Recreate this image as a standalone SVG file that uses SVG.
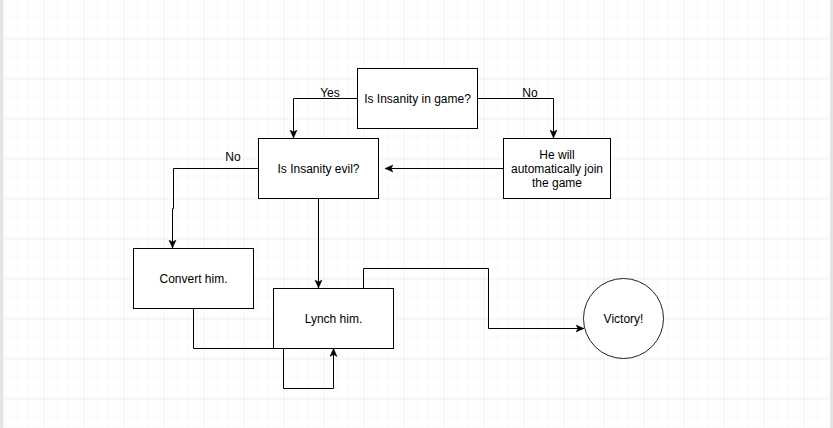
<svg xmlns="http://www.w3.org/2000/svg" width="833" height="428" viewBox="0 0 833 428">
<defs>
<pattern id="minor" x="3.5" y="-1.5" width="10" height="10" patternUnits="userSpaceOnUse">
<path d="M0,0 H10 M0,0 V10" fill="none" stroke="#f4f4f4" stroke-width="1"/>
</pattern>
<pattern id="major" x="3.5" y="-1.5" width="40" height="40" patternUnits="userSpaceOnUse">
<rect width="40" height="40" fill="url(#minor)"/>
<path d="M0,0 H40 M0,0 V40" fill="none" stroke="#e6e6e6" stroke-width="1"/>
</pattern>
<marker id="arr" markerWidth="10" markerHeight="10" refX="8" refY="4" orient="auto" markerUnits="userSpaceOnUse">
<path d="M0,0.5 L8,4 L0,7.5 L2,4 Z" fill="#000" stroke="#000" stroke-width="0.5"/>
</marker>
</defs>
<style>
.box{fill:#fff;stroke:#000;stroke-width:1}
.lbl{font-family:"Liberation Sans",Arial,sans-serif;font-size:12px;fill:#000;text-anchor:middle}
.edge{fill:none;stroke:#000;stroke-width:1}
</style>
<rect width="833" height="428" fill="#fff"/>
<rect width="833" height="428" fill="url(#major)"/>
<rect x="0" y="0" width="3" height="428" fill="#e4e4e4"/>
<rect x="830" y="0" width="3" height="428" fill="#e4e4e4"/>

<g id="connectors">
<path class="edge" d="M357.5,98.5 H293.5 V138" marker-end="url(#arr)"/>
<text class="lbl" x="330" y="97">Yes</text>
<path class="edge" d="M477.5,98.5 H553.5 V138" marker-end="url(#arr)"/>
<text class="lbl" x="530" y="97">No</text>
<path class="edge" d="M503.5,168.5 H385" marker-end="url(#arr)"/>
<path class="edge" d="M258.5,168.5 H173.5 V208.5 H172.5 V248" marker-end="url(#arr)"/>
<text class="lbl" x="233" y="161">No</text>
<path class="edge" d="M318.5,198.5 V288" marker-end="url(#arr)"/>
<path class="edge" d="M193.5,308.5 V348.5 H273.5"/>
<path class="edge" d="M283.5,348.5 V388.5 H333.5 V348.5" marker-end="url(#arr)"/>
<path class="edge" d="M363.5,288.5 V268.5 H488.5 V328.5 H584" marker-end="url(#arr)"/>
</g>

<g id="node-in-game">
<rect class="box" x="357.5" y="68.5" width="120" height="60"/>
<text class="lbl" x="417.5" y="102.5">Is Insanity in game?</text>
</g>
<g id="node-evil">
<rect class="box" x="258.5" y="138.5" width="120" height="60"/>
<text class="lbl" x="318.5" y="172.5">Is Insanity evil?</text>
</g>
<g id="node-join">
<rect class="box" x="503.5" y="138.5" width="107" height="60"/>
<text class="lbl" x="557" y="159">He will</text>
<text class="lbl" x="557" y="173">automatically join</text>
<text class="lbl" x="557" y="187">the game</text>
</g>
<g id="node-convert">
<rect class="box" x="133.5" y="248.5" width="120" height="60"/>
<text class="lbl" x="193.5" y="282.5">Convert him.</text>
</g>
<g id="node-lynch">
<rect class="box" x="273.5" y="288.5" width="120" height="60"/>
<text class="lbl" x="333.5" y="322.5">Lynch him.</text>
</g>
<g id="node-victory">
<circle cx="623.5" cy="318.5" r="40" fill="#fff" stroke="#222" stroke-width="1"/>
<text class="lbl" x="623.5" y="322.5">Victory!</text>
</g>
</svg>
